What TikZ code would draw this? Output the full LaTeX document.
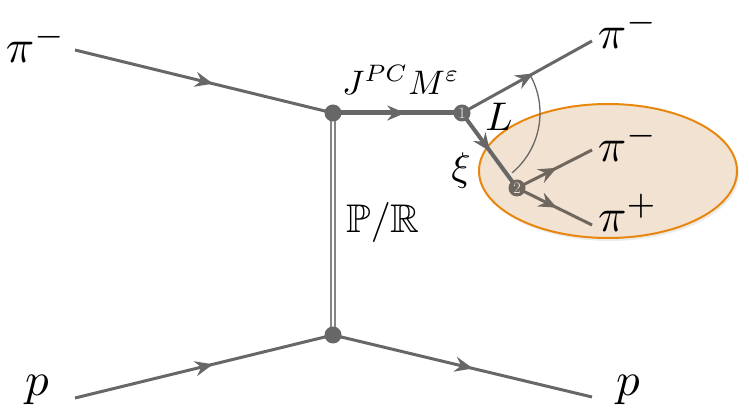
\documentclass[tikz,border=0pt]{standalone}
\usepackage{amssymb}
\usetikzlibrary{arrows.meta,decorations.markings,shadows}
\definecolor{lin}{HTML}{676767}
\definecolor{brn}{HTML}{6F665D}
\definecolor{tan}{HTML}{F1E2D1}
\definecolor{org}{HTML}{E8870E}
\tikzset{
  arrowat/.style={postaction={decorate},decoration={markings,
    mark=at position #1 with {\arrow{Stealth[length=18pt,width=15pt,inset=6pt]}}}},
  prop/.style={draw=lin,line width=3pt},
  vtx/.style={circle,fill=lin,inner sep=0pt,minimum size=17pt},
  numvtx/.style={circle,fill=#1,inner sep=0pt,minimum size=17pt,text=white!85!gray,
    font=\fontsize{16}{16}\selectfont},
  big/.style={scale=4.7,inner sep=0pt},
  mid/.style={scale=4.0,inner sep=0pt},
}
\begin{document}
\begin{tikzpicture}[x=1pt,y=-1pt]
\useasboundingbox (0,0) rectangle (749,419);
% ellipse
\draw[fill=tan,draw=org,line width=2pt,drop shadow={opacity=0.15,shadow xshift=2pt,shadow yshift=-3pt}]
  (608,171) ellipse [x radius=129, y radius=67];
% coordinates
\coordinate (pinL) at (75,50);
\coordinate (pL) at (75,398);
\coordinate (A) at (333,113);
\coordinate (B) at (333,335);
\coordinate (V1) at (462,113);
\coordinate (V2) at (517,188);
\coordinate (pinR) at (592,41);
\coordinate (pinR2) at (592,150);
\coordinate (pipR) at (592,225);
\coordinate (pR) at (592,397);
% lines
\draw[prop,arrowat=0.535] (pinL) -- (A);
\draw[prop,arrowat=0.535] (pL) -- (B);
\draw[prop,arrowat=0.54] (B) -- (pR);
\draw[draw=lin!80!white,line width=6pt] (A) -- (B);
\draw[draw=white,line width=2pt] (A) -- (B);
\draw[draw=lin,line width=5pt,arrowat=0.56] (A) -- (V1);
\draw[prop,arrowat=0.55] (V1) -- (pinR);
\draw[draw=lin,line width=4pt,arrowat=0.51] (V1) -- (V2);
\draw[draw=brn,line width=3pt,arrowat=0.53] (V2) -- (pinR2);
\draw[draw=brn,line width=3pt,arrowat=0.53] (V2) -- (pipR);
% angle arc
\draw[draw=lin,line width=1.3pt] (V1) ++(-30:78) arc[start angle=-30,end angle=50,radius=78];
% vertices
\node[vtx] (vA) at (A) {};
\node[vtx] (vB) at (B) {};
\node[numvtx=lin] (n1) at (V1) {1};
\node[numvtx=brn] (n2) at (V2) {2};
% labels
\node[big] (l1) at (36,44) {$\pi^-$};
\node[big] (l2) at (37,390) {$p$};
\node[big] (l3) at (628,30) {$\pi^-$};
\node[big] (l4) at (628,143) {$\pi^-$};
\node[big] (l5) at (628,213) {$\pi^+$};
\node[big] (l6) at (628,390) {$p$};
\node[scale=3.4,inner sep=0pt] (l7) at (401,80) {$J^{PC}M^{\varepsilon}$};
\node[mid] (l8) at (499,117) {$L$};
\node[mid] (l9) at (461,171) {$\xi$};
\node[mid] (l10) at (383,223) {$\mathbb{P}/\mathbb{R}$};
\end{tikzpicture}
\end{document}
